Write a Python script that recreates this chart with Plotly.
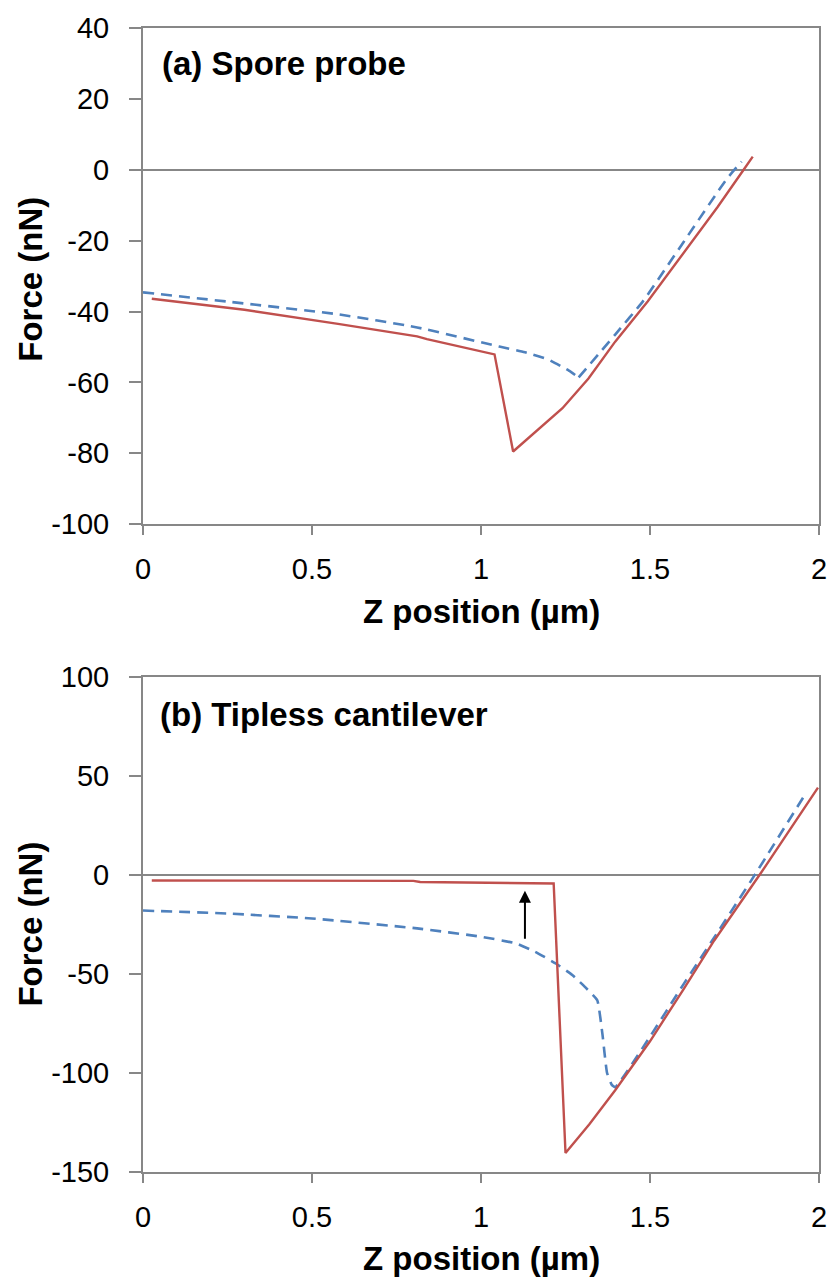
import plotly.graph_objects as go

# ---------------- data ----------------
# (a) Spore probe
a_red_x = [0.026, 0.3, 0.577, 0.811, 0.84, 1.04, 1.095, 1.154, 1.241, 1.318, 1.397, 1.493, 1.602, 1.70, 1.777, 1.804]
a_red_y = [-36.4, -39.5, -43.5, -47.0, -47.8, -52.1, -79.5, -74.6, -67.3, -58.9, -48.5, -37.2, -23.1, -10.5, 0.0, 3.7]
a_blue_x = [0.0, 0.25, 0.577, 0.811, 1.054, 1.13, 1.2, 1.26, 1.289]
a_blue_y = [-34.6, -37.2, -40.8, -44.5, -49.9, -51.5, -53.6, -56.7, -58.6]
a_blue2_x = [1.289, 1.397, 1.48, 1.60, 1.728, 1.771]
a_blue2_y = [-58.6, -46.5, -37.0, -20.3, -2.5, 2.3]

# (b) Tipless cantilever
b_red_x = [0.026, 0.5, 0.8, 0.82, 1.1, 1.215, 1.25, 1.32, 1.397, 1.5, 1.6, 1.69, 1.827, 1.997]
b_red_y = [-2.8, -2.9, -3.0, -3.6, -3.9, -4.3, -140.4, -126.0, -108.7, -84.0, -57.5, -33.1, 0.7, 44.1]
b_blue_x = [0.0, 0.25, 0.5, 0.811, 1.0, 1.104, 1.16, 1.221, 1.27, 1.309, 1.344, 1.359, 1.373, 1.387,
            1.397, 1.493, 1.60, 1.69, 1.81, 1.962]
b_blue_y = [-18.0, -19.5, -22.0, -27.0, -31.2, -34.6, -38.8, -44.7, -50.5, -56.8, -63.3, -80.0, -100.0,
            -106.0, -107.2, -83.5, -55.0, -31.6, 0.0, 41.5]

# arrow in panel (b): x position, tail y, head y
arrow_x = 1.13
arrow_tail_y = -33
arrow_head_y = -8

x_tickvals = [0, 0.5, 1, 1.5, 2]
x_ticktext = ["0", "0.5", "1", "1.5", "2"]
a_tickvals = [40, 20, 0, -20, -40, -60, -80, -100]
a_ticktext = ["40", "20", "0", "-20", "-40", "-60", "-80", "-100"]
b_tickvals = [100, 50, 0, -50, -100, -150]
b_ticktext = ["100", "50", "0", "-50", "-100", "-150"]

panel_labels = ["(a) Spore probe", "(b) Tipless cantilever"]
x_title = "Z position (µm)"
y_title = "Force (nN)"

# ---------------- styling ----------------
RED = "#C0504D"
BLUE = "#4F81BD"
GRAY = "#878787"
TICKFONT = dict(family="Liberation Sans, Arial, sans-serif", size=29, color="#000000")
BOLDFONT = dict(family="Liberation Sans, Arial, sans-serif", size=33, color="#000000", weight="bold")
BLUE_LINE = dict(color=BLUE, width=2.6, dash="11px,7px", shape="spline", smoothing=0.5)
RED_LINE = dict(color=RED, width=2.4)

fig = go.Figure()
fig.add_trace(go.Scatter(x=a_blue_x, y=a_blue_y, mode="lines", xaxis="x", yaxis="y",
                         line=BLUE_LINE, showlegend=False))
fig.add_trace(go.Scatter(x=a_blue2_x, y=a_blue2_y, mode="lines", xaxis="x", yaxis="y",
                         line=BLUE_LINE, showlegend=False))
fig.add_trace(go.Scatter(x=a_red_x, y=a_red_y, mode="lines", xaxis="x", yaxis="y",
                         line=RED_LINE, showlegend=False))
fig.add_trace(go.Scatter(x=b_blue_x, y=b_blue_y, mode="lines", xaxis="x2", yaxis="y2",
                         line=dict(color=BLUE, width=2.6, dash="11px,7px", shape="spline", smoothing=0.4),
                         showlegend=False))
fig.add_trace(go.Scatter(x=b_red_x, y=b_red_y, mode="lines", xaxis="x2", yaxis="y2",
                         line=RED_LINE, showlegend=False))

L, R, T, B = 143, 13, 26, 110
W, H = 839, 1282
ph = H - T - B  # 1146
top_dom = [1 - 497 / ph, 1]
bot_dom = [0, 496 / ph]

xcommon = dict(range=[0, 2], tickvals=x_tickvals, ticktext=x_ticktext, showgrid=False,
               zeroline=False, showline=True, linecolor=GRAY, linewidth=2, mirror=True,
               ticks="outside", ticklen=9, tickwidth=2, tickcolor=GRAY, tickfont=TICKFONT,
               ticklabelstandoff=9, fixedrange=True)
ycommon = dict(showgrid=False, zeroline=True, zerolinecolor=GRAY, zerolinewidth=2,
               showline=True, linecolor=GRAY, linewidth=2, mirror=True,
               ticks="outside", ticklen=12, tickwidth=2, tickcolor=GRAY, tickfont=TICKFONT,
               ticklabelstandoff=14, fixedrange=True)

fig.update_layout(
    width=W, height=H,
    margin=dict(l=L, r=R, t=T, b=B),
    paper_bgcolor="white", plot_bgcolor="white",
    xaxis=dict(domain=[0, 1], anchor="y", **xcommon),
    yaxis=dict(domain=top_dom, anchor="x", range=[-100, 40], tickvals=a_tickvals,
               ticktext=a_ticktext, **ycommon),
    xaxis2=dict(domain=[0, 1], anchor="y2", **xcommon),
    yaxis2=dict(domain=bot_dom, anchor="x2", range=[-150, 100], tickvals=b_tickvals,
                ticktext=b_ticktext, **ycommon),
)

def px_to_paper_x(px):
    return (px - L) / (W - L - R)

def px_to_paper_y(py):
    return (H - B - py) / ph

annotations = [
    dict(text=panel_labels[0], x=px_to_paper_x(160), y=px_to_paper_y(62), xref="paper", yref="paper",
         xanchor="left", yanchor="middle", showarrow=False, font=BOLDFONT),
    dict(text=panel_labels[1], x=px_to_paper_x(158), y=px_to_paper_y(714), xref="paper", yref="paper",
         xanchor="left", yanchor="middle", showarrow=False, font=BOLDFONT),
    dict(text=x_title, x=0.5, y=px_to_paper_y(611), xref="paper", yref="paper",
         xanchor="center", yanchor="middle", showarrow=False, font=BOLDFONT),
    dict(text=x_title, x=0.5, y=px_to_paper_y(1259), xref="paper", yref="paper",
         xanchor="center", yanchor="middle", showarrow=False, font=BOLDFONT),
    dict(text=y_title, x=px_to_paper_x(29), y=px_to_paper_y(278), xref="paper", yref="paper",
         xanchor="center", yanchor="middle", showarrow=False, textangle=-90, font=BOLDFONT),
    dict(text=y_title, x=px_to_paper_x(29), y=px_to_paper_y(924), xref="paper", yref="paper",
         xanchor="center", yanchor="middle", showarrow=False, textangle=-90, font=BOLDFONT),
    dict(text="", x=arrow_x, y=arrow_head_y, ax=arrow_x, ay=arrow_tail_y,
         xref="x2", yref="y2", axref="x2", ayref="y2",
         showarrow=True, arrowhead=2, arrowsize=1.2, arrowwidth=2, arrowcolor="#000000"),
]
fig.update_layout(annotations=annotations)

fig.write_html("out.html", config={"displayModeBar": False},
               post_script="document.body.style.margin='0';document.body.style.overflow='hidden';")
